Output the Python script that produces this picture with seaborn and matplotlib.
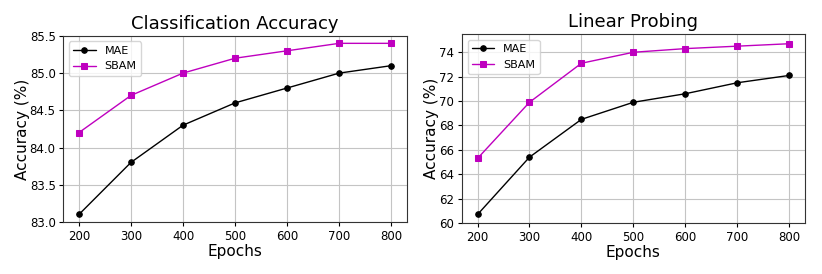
import numpy as np
import pandas as pd
import matplotlib
matplotlib.use("Agg")
import matplotlib.pyplot as plt
import seaborn as sns

sns.set_style("ticks")
plt.rcParams['font.family'] = ['DejaVu Sans']
plt.rcParams['text.color'] = 'black'
plt.rcParams['axes.labelcolor'] = 'black'
plt.rcParams['xtick.color'] = 'black'
plt.rcParams['ytick.color'] = 'black'

epochs = [200, 300, 400, 500, 600, 700, 800]
cls_mae = [83.1, 83.8, 84.3, 84.6, 84.8, 85.0, 85.1]
cls_sbam = [84.2, 84.7, 85.0, 85.2, 85.3, 85.4, 85.4]
lin_mae = [60.7, 65.4, 68.5, 69.9, 70.6, 71.5, 72.1]
lin_sbam = [65.3, 69.9, 73.1, 74.0, 74.3, 74.5, 74.7]


def draw(ax, mae, sbam, title):
    sns.lineplot(x=epochs, y=mae, ax=ax, color="k", marker="o", markersize=4,
                 markeredgecolor="k", linewidth=1, label="MAE")
    sns.lineplot(x=epochs, y=sbam, ax=ax, color="m", marker="s", markersize=4,
                 markeredgecolor="m", linewidth=1, label="SBAM")
    ax.set_title(title, fontsize=13, pad=5)
    ax.set_xlabel("Epochs", fontsize=11, labelpad=1)
    ax.set_ylabel("Accuracy (%)", fontsize=11, labelpad=0)
    ax.set_xticks(epochs)
    ax.tick_params(labelsize=8.5, length=3, pad=2.5, colors="black")
    ax.grid(True, color="#c4c4c4", linewidth=0.8)
    ax.set_axisbelow(True)
    for s in ax.spines.values():
        s.set_color("#333333")
        s.set_linewidth(0.8)
    ax.legend(loc="upper left", fontsize=8, frameon=True, fancybox=True,
              edgecolor="#cccccc")


fig = plt.figure(figsize=(8.22, 2.74), dpi=100)
ax1 = fig.add_axes([0.077, 0.19, 0.418, 0.679])
ax2 = fig.add_axes([0.562, 0.186, 0.417, 0.69])

draw(ax1, cls_mae, cls_sbam, "Classification Accuracy")
ax1.set_ylim(83.0, 85.5)
ax1.set_yticks([83.0, 83.5, 84.0, 84.5, 85.0, 85.5])
ax1.set_yticklabels(["83.0", "83.5", "84.0", "84.5", "85.0", "85.5"])

draw(ax2, lin_mae, lin_sbam, "Linear Probing")
ax2.set_ylim(60.0, 75.5)
ax2.set_yticks([60, 62, 64, 66, 68, 70, 72, 74])

fig.savefig("out.png", dpi=100)
